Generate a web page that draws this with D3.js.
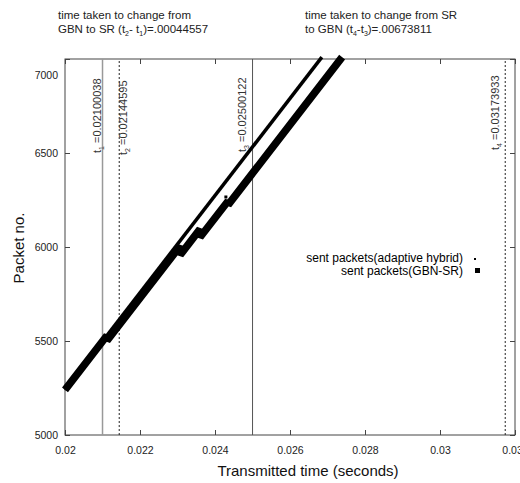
<!DOCTYPE html>
<html>
<head>
<meta charset="utf-8">
<script src="https://cdn.jsdelivr.net/npm/d3@7"></script>
<style>
  body { margin: 0; background: #fff; }
  text { font-family: "Liberation Sans", Arial, sans-serif; fill: #111; }
  .tick text { font-size: 10.5px; fill: #222; }
  .tick line { stroke: #444; }
</style>
</head>
<body>
<div id="chart"></div>
<script>
// values
const xTicks = [0.02, 0.022, 0.024, 0.026, 0.028, 0.03, 0.032];
const xTickLabels = ["0.02", "0.022", "0.024", "0.026", "0.028", "0.03", "0.032"];
const yTicks = [5000, 5500, 6000, 6500, 7000];

// [time, packet no.]
const adaptiveHybrid = [[0.0200, 5240], [0.02685, 7010]];
const adaptiveStray = [[0.02429, 6266]];
const gbnSr = [
    [0.0200, 5240], [0.02112, 5529], [0.02112, 5502],
    [0.02307, 6005], [0.02307, 5957],
    [0.0236, 6095], [0.0236, 6052],
    [0.02435, 6245], [0.02435, 6224],
    [0.02739, 7010]
];

const switchNames = ["1", "2", "3", "4"];
const switchTimes = [0.02100038, 0.02144595, 0.02500122, 0.03173933];
const legendLabels = ["sent packets(adaptive hybrid)", "sent packets(GBN-SR)"];

const width = 520;
const height = 483;
const margin = { top: 59, right: 5, bottom: 48, left: 65 };
const innerWidth = width - margin.left - margin.right;
const innerHeight = height - margin.top - margin.bottom;

const svg = d3.select("#chart")
    .append("svg")
    .attr("width", width)
    .attr("height", height);

const g = svg.append("g")
    .attr("transform", `translate(${margin.left}, ${margin.top})`);

const xScale = d3.scaleLinear().domain([0.02, 0.032]).range([0, innerWidth]);
const yScale = d3.scaleLinear().domain([5000, 7000]).range([innerHeight, 0]);

// axes, ticks pointing inward
const xAxis = d3.axisBottom(xScale)
    .tickValues(xTicks)
    .tickFormat((d, i) => xTickLabels[i])
    .tickSizeInner(-5).tickSizeOuter(0).tickPadding(12);
const yAxis = d3.axisLeft(yScale)
    .tickValues(yTicks)
    .tickFormat(d3.format("d"))
    .tickSizeInner(-5).tickSizeOuter(0).tickPadding(7);

const gx = g.append("g")
    .attr("transform", `translate(0, ${innerHeight})`)
    .call(xAxis);
gx.select(".domain").remove();

const gy = g.append("g").call(yAxis);
gy.select(".domain").remove();
gy.selectAll(".tick text").filter(d => d === 7000).attr("y", 16);

g.append("g")
    .call(d3.axisTop(xScale).tickValues(xTicks).tickFormat("").tickSizeInner(-5).tickSizeOuter(0))
    .select(".domain").remove();
g.append("g")
    .attr("transform", `translate(${innerWidth}, 0)`)
    .call(d3.axisRight(yScale).tickValues(yTicks).tickFormat("").tickSizeInner(-5).tickSizeOuter(0))
    .select(".domain").remove();

g.append("rect")
    .attr("width", innerWidth)
    .attr("height", innerHeight)
    .attr("fill", "none")
    .attr("stroke", "#444");

// switch time markers
const markerStyle = [
    { stroke: "#999", width: 1.5, dash: null, dx: -2, base: 94 },
    { stroke: "#222", width: 1, dash: "2,2", dx: 8, base: 96 },
    { stroke: "#555", width: 1, dash: null, dx: -7, base: 93 },
    { stroke: "#222", width: 1, dash: "2,2", dx: -6, base: 91 }
];

switchTimes.forEach((t, i) => {
    const s = markerStyle[i];
    g.append("line")
        .attr("x1", xScale(t)).attr("x2", xScale(t))
        .attr("y1", yScale(5000)).attr("y2", yScale(7000))
        .attr("stroke", s.stroke)
        .attr("stroke-width", s.width)
        .attr("stroke-dasharray", s.dash);

    const label = g.append("text")
        .attr("transform", `translate(${xScale(t) + s.dx}, ${s.base}) rotate(-90)`)
        .style("font-size", "11px")
        .style("fill", "#333");
    label.append("tspan").text("t");
    label.append("tspan").attr("dy", 3).style("font-size", "7px").text(switchNames[i]);
    label.append("tspan").attr("dy", -3).text(" =" + t);
});

const line = d3.line()
    .x(d => xScale(d[0]))
    .y(d => yScale(d[1]));

g.append("path")
    .datum(gbnSr)
    .attr("d", line)
    .attr("fill", "none")
    .attr("stroke", "#000")
    .attr("stroke-width", 7.5)
    .attr("stroke-linejoin", "bevel");

g.append("path")
    .datum(adaptiveHybrid)
    .attr("d", line)
    .attr("fill", "none")
    .attr("stroke", "#000")
    .attr("stroke-width", 3.5);

g.selectAll(".stray")
    .data(adaptiveStray)
    .enter()
    .append("rect")
    .attr("x", d => xScale(d[0]) - 1.5)
    .attr("y", d => yScale(d[1]) - 1.5)
    .attr("width", 3)
    .attr("height", 3)
    .attr("fill", "#000");

// legend
const legend = g.append("g").attr("transform", "translate(398, 203)");
legendLabels.forEach((lbl, i) => {
    legend.append("text")
        .attr("x", 0)
        .attr("y", i * 13)
        .attr("text-anchor", "end")
        .style("font-size", "12px")
        .style("fill", "#000")
        .text(lbl);
});
legend.append("rect").attr("x", 11).attr("y", -4).attr("width", 2).attr("height", 2).attr("fill", "#000");
legend.append("rect").attr("x", 12).attr("y", 6).attr("width", 5).attr("height", 5).attr("fill", "#000");

// axis titles
svg.append("text")
    .attr("x", 308)
    .attr("y", 476)
    .attr("text-anchor", "middle")
    .style("font-size", "15px")
    .text("Transmitted time (seconds)");

svg.append("text")
    .attr("transform", "translate(24, 248) rotate(-90)")
    .attr("text-anchor", "middle")
    .style("font-size", "15px")
    .text("Packet no.");

// annotations at the top
const notes = [
    { x: 58, lines: ["time taken to change from"], sub: ["GBN to SR (t", "2", "- t", "1", ")=.00044557"] },
    { x: 305, lines: ["time taken to change from SR"], sub: ["to GBN (t", "4", "-t", "3", ")=.00673811"] }
];
notes.forEach(n => {
    svg.append("text")
        .attr("x", n.x).attr("y", 19)
        .style("font-size", "11.5px")
        .style("fill", "#222")
        .text(n.lines[0]);
    const t2 = svg.append("text")
        .attr("x", n.x).attr("y", 33)
        .style("font-size", "11.5px")
        .style("fill", "#222");
    n.sub.forEach((part, i) => {
        const isSub = i % 2 === 1;
        t2.append("tspan")
            .attr("dy", isSub ? 3 : (i === 0 ? 0 : -3))
            .style("font-size", isSub ? "7px" : null)
            .text(part);
    });
});
</script>
</body>
</html>
